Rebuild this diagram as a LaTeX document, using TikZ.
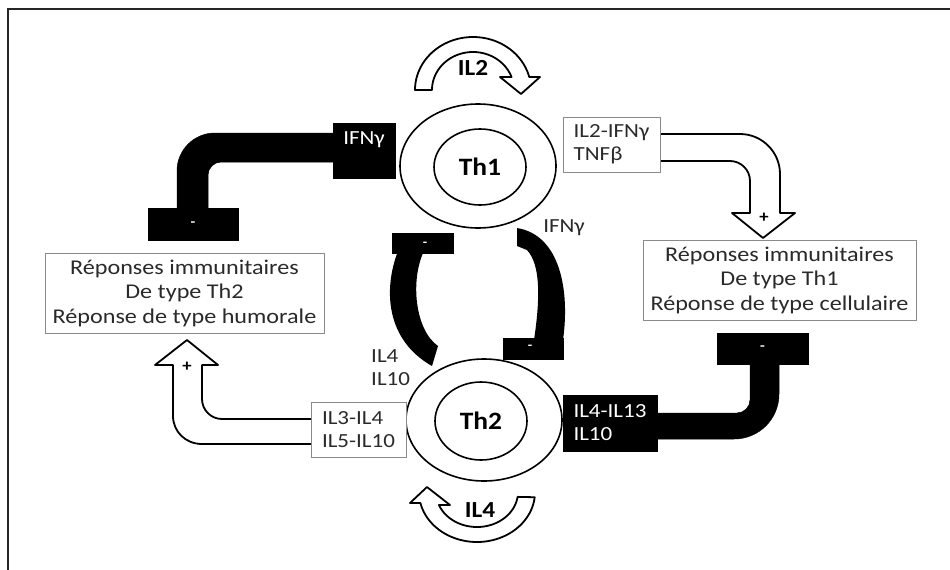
\documentclass[tikz,border=0pt]{standalone}
\usepackage{fontspec}
\setmainfont[FakeStretch=1.1]{Carlito}
\newfontfamily\respfont[FakeStretch=1.15]{Carlito}
\usetikzlibrary{shapes.geometric}
\definecolor{txt}{HTML}{2A2A2A}
\definecolor{boxline}{HTML}{8A8A8A}
\begin{document}
\begin{tikzpicture}[x=1pt,y=-1pt,
  resp/.style={draw=boxline,line width=1pt,fill=white,inner sep=0pt,align=center,
    text=txt,font=\respfont\fontsize{21}{24.5}\selectfont},
  cytobox/.style={draw=boxline,line width=1pt,fill=white,inner sep=0pt,align=left,
    text=txt,font=\respfont\fontsize{20}{23}\selectfont},
  blackbox/.style={fill=black,draw=black,inner sep=0pt,align=left,text=white,
    font=\respfont\fontsize{20}{23}\selectfont},
  minusbox/.style={fill=black,draw=black,inner sep=0pt,text=white,font=\bfseries\fontsize{14}{14}\selectfont},
  lbl/.style={inner sep=0pt,align=left,text=txt,font=\respfont\fontsize{20}{23}\selectfont},
  outercell/.style={ellipse,draw=black,line width=1.6pt,fill=white,inner sep=0pt},
  innercell/.style={ellipse,draw=black,line width=1.6pt,fill=white,inner sep=0pt,
    font=\bfseries\fontsize{25}{25}\selectfont},
  whitearrow/.style={fill=white,draw=black,line width=1.8pt,line join=round},
  pipe/.style={fill=black,draw=black,line width=0.5pt},
  bigtxt/.style={inner sep=0pt,font=\bfseries\fontsize{23}{23}\selectfont}
]
\useasboundingbox (0,0) rectangle (950,570);
\fill[white] (0,0) rectangle (950,570);
% frame
\draw[line width=2.4pt,black!85] (8,572) -- (8,9) -- (952,9);

% ---- black inhibition pipes ----
\path[pipe] (340,133) -- (215,133) .. controls (194,133) and (177,150) .. (177,171)
  -- (177,212) -- (208,212) -- (208,175) .. controls (208,168) and (214,162) .. (221,162)
  -- (340,162) -- cycle;
\path[pipe] (650,413) -- (737,413) .. controls (744,413) and (750,407) .. (750,400)
  -- (750,360) -- (779,360) -- (779,394) .. controls (779,419) and (759,439) .. (734,439)
  -- (650,439) -- cycle;

% ---- white activation arrows ----
\draw[whitearrow] (655,134) -- (740,134) .. controls (762,134) and (780,152) .. (780,174)
  -- (780,213) -- (795,213) -- (763,238) -- (732,213) -- (750,213) -- (750,181)
  .. controls (750,170) and (741,161) .. (730,161) -- (655,161) -- cycle;
\draw[whitearrow] (316,419) -- (222,419) .. controls (211,419) and (202,410) .. (202,399)
  -- (202,365) -- (218,365) -- (187,340) -- (155,365) -- (173,365) -- (173,416)
  .. controls (173,431.5) and (185.5,444) .. (202,444) -- (316,444) -- cycle;

% ---- middle inhibition brackets ----
\fill[black] (398,251) .. controls (383,290) and (386,340) .. (432,366) -- (438,346)
  .. controls (415,330) and (410,280) .. (424,251) -- cycle;
\fill[black] (517,228) .. controls (560,235) and (570,290) .. (563,340) -- (534,340)
  .. controls (540,300) and (541,265) .. (527,250) -- (517,246) -- cycle;

% ---- self-loop arrows ----
\draw[whitearrow] plot[domain=180:345.8,samples=60] ({473+58*cos(\x)},{90+53*sin(\x)})
  -- (540,77) -- (521,94) -- (500,77)
  -- plot[domain=340:180,samples=60] ({473+41*cos(\x)},{90+38*sin(\x)}) -- cycle;
\draw[whitearrow] plot[domain=6:167.3,samples=60] ({477+58*cos(\x)},{492+50*sin(\x)})
  -- (410,503) -- (427,487) -- (450,505)
  -- plot[domain=158.2:8,samples=60] ({477+41*cos(\x)},{492+35*sin(\x)}) -- cycle;
\node[bigtxt] (il2) at (473,68) {IL2};
\node[bigtxt] (il4) at (480,510) {IL4};

% ---- cells ----
\node[outercell,minimum width=156pt,minimum height=124pt] (th1o) at (478,166) {};
\node[innercell,minimum width=92pt,minimum height=76pt] (th1) at (480,167) {Th1};
\node[outercell,minimum width=156pt,minimum height=122pt] (th2o) at (484,420) {};
\node[innercell,minimum width=92pt,minimum height=78pt] (th2) at (481,421) {Th2};

% ---- boxes ----
\node[resp,minimum width=279pt,minimum height=80pt] (resp2) at (184.5,293)
  {Réponses immunitaires\\De type Th2\\Réponse de type humorale};
\node[resp,minimum width=273pt,minimum height=80pt] (resp1) at (779.5,280)
  {Réponses immunitaires\\De type Th1\\Réponse de type cellulaire};
\node[cytobox,minimum width=97pt,minimum height=55pt] (c1) at (611.5,144.5)
  {IL2-IFNγ\\TNFβ};
\node[cytobox,minimum width=95pt,minimum height=55pt] (c2) at (358.5,429.5)
  {IL3-IL4\\IL5-IL10};
\node[blackbox,minimum width=94pt,minimum height=56pt] (c3) at (610,423)
  {IL4-IL13\\IL10};
\node[blackbox,minimum width=62pt,minimum height=55pt] (ifnbox) at (364,150.5) {};
\node[inner sep=0pt,text=white,font=\respfont\fontsize{20}{20}\selectfont] (ifntxt) at (364,140) {IFNγ};

% ---- minus boxes ----
\node[minusbox,minimum width=90pt,minimum height=32pt] (m1) at (193,224) {-};
\node[minusbox,minimum width=91pt,minimum height=31pt] (m2) at (762.5,348.5) {-};
\node[minusbox,minimum width=61pt,minimum height=20pt] (m3) at (422.5,243) {};
\node[inner sep=0pt,text=white,font=\bfseries\fontsize{13}{13}\selectfont] (m3t) at (425,244) {-};
\node[minusbox,minimum width=60pt,minimum height=21pt] (m4) at (533,348.5) {};
\node[inner sep=0pt,text=white,font=\bfseries\fontsize{13}{13}\selectfont] (m4t) at (530,347) {-};

% ---- plus signs ----
\node[inner sep=0pt,font=\bfseries\fontsize{17}{17}\selectfont] (p1) at (764,218) {+};
\node[inner sep=0pt,font=\bfseries\fontsize{17}{17}\selectfont] (p2) at (187,367) {+};

% ---- free labels ----
\node[lbl] (ifnlbl) at (564,228) {IFNγ};
\node[lbl,anchor=west] (il410) at (371,367.5) {IL4\\IL10};
\end{tikzpicture}
\end{document}
